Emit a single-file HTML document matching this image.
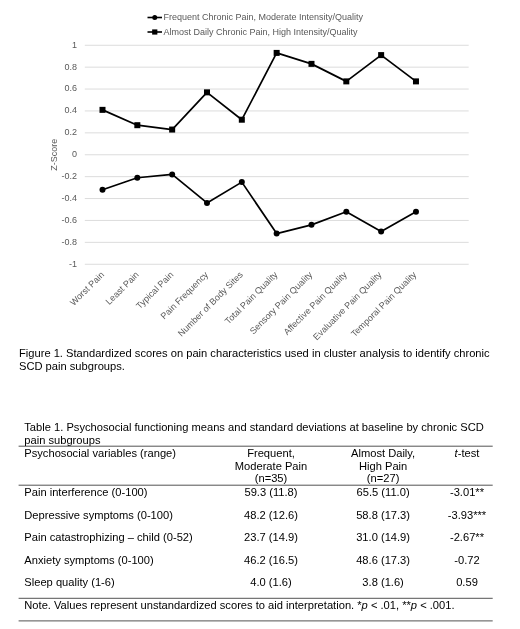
<!DOCTYPE html>
<html><head><meta charset="utf-8"><title>Figure 1 / Table 1</title>
<style>html,body{margin:0;padding:0;background:#fff}body{width:520px;height:629px;overflow:hidden}svg{display:block;will-change:transform;transform:translateZ(0)}text{font-family:"Liberation Sans",sans-serif}.c{font-size:9.0px;fill:#595959}.b{font-size:11.15px;fill:#000}.i{font-style:italic}</style></head><body>
<svg width="520" height="629" viewBox="0 0 520 629">
<rect width="520" height="629" fill="#fff"/>
<line x1="84.80" x2="468.70" y1="45.25" y2="45.25" stroke="#dcdcdc" stroke-width="1"/>
<text class="c" x="77.00" y="47.60" text-anchor="end">1</text>
<line x1="84.80" x2="468.70" y1="67.15" y2="67.15" stroke="#dcdcdc" stroke-width="1"/>
<text class="c" x="77.00" y="69.50" text-anchor="end">0.8</text>
<line x1="84.80" x2="468.70" y1="89.05" y2="89.05" stroke="#dcdcdc" stroke-width="1"/>
<text class="c" x="77.00" y="91.40" text-anchor="end">0.6</text>
<line x1="84.80" x2="468.70" y1="110.95" y2="110.95" stroke="#dcdcdc" stroke-width="1"/>
<text class="c" x="77.00" y="113.30" text-anchor="end">0.4</text>
<line x1="84.80" x2="468.70" y1="132.85" y2="132.85" stroke="#dcdcdc" stroke-width="1"/>
<text class="c" x="77.00" y="135.20" text-anchor="end">0.2</text>
<line x1="84.80" x2="468.70" y1="154.75" y2="154.75" stroke="#dcdcdc" stroke-width="1"/>
<text class="c" x="77.00" y="157.10" text-anchor="end">0</text>
<line x1="84.80" x2="468.70" y1="176.65" y2="176.65" stroke="#dcdcdc" stroke-width="1"/>
<text class="c" x="77.00" y="179.00" text-anchor="end">-0.2</text>
<line x1="84.80" x2="468.70" y1="198.55" y2="198.55" stroke="#dcdcdc" stroke-width="1"/>
<text class="c" x="77.00" y="200.90" text-anchor="end">-0.4</text>
<line x1="84.80" x2="468.70" y1="220.45" y2="220.45" stroke="#dcdcdc" stroke-width="1"/>
<text class="c" x="77.00" y="222.80" text-anchor="end">-0.6</text>
<line x1="84.80" x2="468.70" y1="242.35" y2="242.35" stroke="#dcdcdc" stroke-width="1"/>
<text class="c" x="77.00" y="244.70" text-anchor="end">-0.8</text>
<line x1="84.80" x2="468.70" y1="264.25" y2="264.25" stroke="#dcdcdc" stroke-width="1"/>
<text class="c" x="77.00" y="266.60" text-anchor="end">-1</text>
<text class="c" transform="translate(57.20,154.80) rotate(-90)" text-anchor="middle">Z-Score</text>
<polyline points="102.50,109.86 137.33,125.19 172.16,129.56 206.99,92.34 241.82,119.71 276.65,52.91 311.48,63.87 346.31,81.38 381.14,55.10 415.97,81.38" fill="none" stroke="#000" stroke-width="1.7" stroke-linejoin="round" stroke-linecap="round"/>
<polyline points="102.50,189.79 137.33,177.75 172.16,174.46 206.99,202.93 241.82,182.12 276.65,233.59 311.48,224.83 346.31,211.69 381.14,231.40 415.97,211.69" fill="none" stroke="#000" stroke-width="1.7" stroke-linejoin="round" stroke-linecap="round"/>
<rect x="99.50" y="106.86" width="6" height="6" fill="#000"/>
<rect x="134.33" y="122.19" width="6" height="6" fill="#000"/>
<rect x="169.16" y="126.56" width="6" height="6" fill="#000"/>
<rect x="203.99" y="89.34" width="6" height="6" fill="#000"/>
<rect x="238.82" y="116.71" width="6" height="6" fill="#000"/>
<rect x="273.65" y="49.91" width="6" height="6" fill="#000"/>
<rect x="308.48" y="60.87" width="6" height="6" fill="#000"/>
<rect x="343.31" y="78.38" width="6" height="6" fill="#000"/>
<rect x="378.14" y="52.10" width="6" height="6" fill="#000"/>
<rect x="412.97" y="78.38" width="6" height="6" fill="#000"/>
<circle cx="102.50" cy="189.79" r="3" fill="#000"/>
<circle cx="137.33" cy="177.75" r="3" fill="#000"/>
<circle cx="172.16" cy="174.46" r="3" fill="#000"/>
<circle cx="206.99" cy="202.93" r="3" fill="#000"/>
<circle cx="241.82" cy="182.12" r="3" fill="#000"/>
<circle cx="276.65" cy="233.59" r="3" fill="#000"/>
<circle cx="311.48" cy="224.83" r="3" fill="#000"/>
<circle cx="346.31" cy="211.69" r="3" fill="#000"/>
<circle cx="381.14" cy="231.40" r="3" fill="#000"/>
<circle cx="415.97" cy="211.69" r="3" fill="#000"/>
<text class="c" transform="translate(104.70,275.20) rotate(-45)" text-anchor="end">Worst Pain</text>
<text class="c" transform="translate(139.39,275.20) rotate(-45)" text-anchor="end">Least Pain</text>
<text class="c" transform="translate(174.08,275.20) rotate(-45)" text-anchor="end">Typical Pain</text>
<text class="c" transform="translate(208.77,275.20) rotate(-45)" text-anchor="end">Pain Frequency</text>
<text class="c" transform="translate(243.46,275.20) rotate(-45)" text-anchor="end">Number of Body Sites</text>
<text class="c" transform="translate(278.15,275.20) rotate(-45)" text-anchor="end">Total Pain Quality</text>
<text class="c" transform="translate(312.84,275.20) rotate(-45)" text-anchor="end">Sensory Pain Quality</text>
<text class="c" transform="translate(347.53,275.20) rotate(-45)" text-anchor="end">Affective Pain Quality</text>
<text class="c" transform="translate(382.22,275.20) rotate(-45)" text-anchor="end">Evaluative Pain Quality</text>
<text class="c" transform="translate(416.91,275.20) rotate(-45)" text-anchor="end">Temporal Pain Quality</text>
<line x1="147.50" x2="162.00" y1="17.50" y2="17.50" stroke="#000" stroke-width="1.6"/>
<circle cx="154.75" cy="17.50" r="2.5" fill="#000"/>
<text class="c" x="163.50" y="20.20">Frequent Chronic Pain, Moderate Intensity/Quality</text>
<line x1="147.50" x2="162.00" y1="32.00" y2="32.00" stroke="#000" stroke-width="1.6"/>
<rect x="152.15" y="29.40" width="5.2" height="5.2" fill="#000"/>
<text class="c" x="163.50" y="35.30">Almost Daily Chronic Pain, High Intensity/Quality</text>
<text class="b" x="19" y="356.5">Figure 1. Standardized scores on pain characteristics used in cluster analysis to identify chronic</text>
<text class="b" x="19" y="370.2">SCD pain subgroups.</text>
<text class="b" x="24.3" y="430.7">Table 1. Psychosocial functioning means and standard deviations at baseline by chronic SCD</text>
<text class="b" x="24.3" y="443.5">pain subgroups</text>
<line x1="18.60" x2="492.70" y1="446.20" y2="446.20" stroke="#1a1a1a" stroke-width="0.75"/>
<text class="b" x="24.3" y="457">Psychosocial variables (range)</text>
<text class="b" x="271.00" y="457.00" text-anchor="middle">Frequent,</text>
<text class="b" x="271.00" y="469.50" text-anchor="middle">Moderate Pain</text>
<text class="b" x="271.00" y="482.30" text-anchor="middle">(n=35)</text>
<text class="b" x="383.10" y="457.00" text-anchor="middle">Almost Daily,</text>
<text class="b" x="383.10" y="469.50" text-anchor="middle">High Pain</text>
<text class="b" x="383.10" y="482.30" text-anchor="middle">(n=27)</text>
<text class="b" x="467.00" y="457" text-anchor="middle"><tspan class="i">t</tspan>-test</text>
<line x1="18.60" x2="492.70" y1="485.20" y2="485.20" stroke="#1a1a1a" stroke-width="0.75"/>
<text class="b" x="24.3" y="496.00">Pain interference (0-100)</text>
<text class="b" x="271.00" y="496.00" text-anchor="middle">59.3 (11.8)</text>
<text class="b" x="383.10" y="496.00" text-anchor="middle">65.5 (11.0)</text>
<text class="b" x="467.00" y="496.00" text-anchor="middle">-3.01**</text>
<text class="b" x="24.3" y="518.50">Depressive symptoms (0-100)</text>
<text class="b" x="271.00" y="518.50" text-anchor="middle">48.2 (12.6)</text>
<text class="b" x="383.10" y="518.50" text-anchor="middle">58.8 (17.3)</text>
<text class="b" x="467.00" y="518.50" text-anchor="middle">-3.93***</text>
<text class="b" x="24.3" y="541.40">Pain catastrophizing – child (0-52)</text>
<text class="b" x="271.00" y="541.40" text-anchor="middle">23.7 (14.9)</text>
<text class="b" x="383.10" y="541.40" text-anchor="middle">31.0 (14.9)</text>
<text class="b" x="467.00" y="541.40" text-anchor="middle">-2.67**</text>
<text class="b" x="24.3" y="563.50">Anxiety symptoms (0-100)</text>
<text class="b" x="271.00" y="563.50" text-anchor="middle">46.2 (16.5)</text>
<text class="b" x="383.10" y="563.50" text-anchor="middle">48.6 (17.3)</text>
<text class="b" x="467.00" y="563.50" text-anchor="middle">-0.72</text>
<text class="b" x="24.3" y="585.50">Sleep quality (1-6)</text>
<text class="b" x="271.00" y="585.50" text-anchor="middle">4.0 (1.6)</text>
<text class="b" x="383.10" y="585.50" text-anchor="middle">3.8 (1.6)</text>
<text class="b" x="467.00" y="585.50" text-anchor="middle">0.59</text>
<line x1="18.60" x2="492.70" y1="598.30" y2="598.30" stroke="#1a1a1a" stroke-width="0.75"/>
<text class="b" x="24.3" y="608.5">Note. Values represent unstandardized scores to aid interpretation. *<tspan class="i">p</tspan> &lt; .01, **<tspan class="i">p</tspan> &lt; .001.</text>
<line x1="18.60" x2="492.70" y1="620.90" y2="620.90" stroke="#1a1a1a" stroke-width="0.75"/>
</svg></body></html>
